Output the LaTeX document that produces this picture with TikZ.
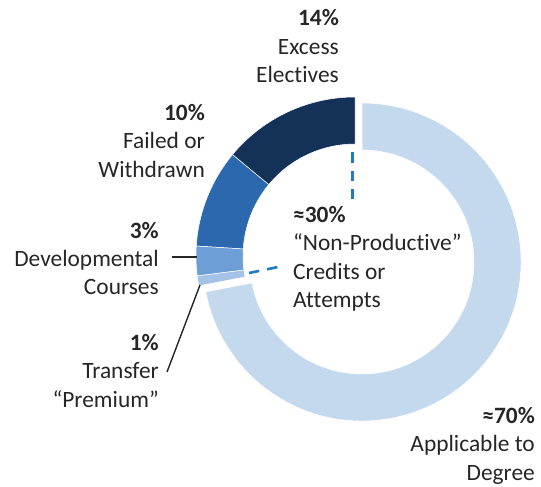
\documentclass[tikz,border=0pt]{standalone}
\usepackage{fontspec}
\setmainfont{Carlito}[Ligatures={NoCommon}]
\usetikzlibrary{calc}
\definecolor{cdark}{HTML}{143257}
\definecolor{cfail}{HTML}{2B68AD}
\definecolor{cdev}{HTML}{6E9ED6}
\definecolor{ctrans}{HTML}{A3C2E6}
\definecolor{clight}{HTML}{C5D9EE}
\definecolor{cdash}{HTML}{1F7BC4}
\definecolor{tcol}{HTML}{262626}
\tikzset{
  lbl/.style={inner sep=0pt, text=tcol, font=\fontsize{23.4}{28.5}\selectfont},
  dashln/.style={draw=cdash, line width=2.6pt, dash pattern=on 10.5pt off 8pt},
  leader/.style={draw=tcol, line width=1.4pt},
  segfill/.style={draw=white, line width=0.5pt}
}
\newcommand\donutseg[4]{%
  \fill[#4, segfill] ($(#1)+(#2:159)$) arc[start angle=#2, end angle=#3, radius=159]
    -- ($(#1)+(#3:112)$) arc[start angle=#3, end angle=#2, radius=112] -- cycle;}
\begin{document}
\begin{tikzpicture}[x=1pt,y=1pt]
\useasboundingbox (0,0) rectangle (541,-487);
\coordinate (c) at (355,-256);
\coordinate (cl) at (362,-262);
% segments
\donutseg{c}{90}{140.4}{cdark}
\donutseg{c}{140.4}{176.4}{cfail}
\donutseg{c}{176.4}{187.2}{cdev}
\donutseg{c}{187.2}{190.8}{ctrans}
\donutseg{cl}{190.8}{450}{clight}
% dashed lines
\coordinate (d1a) at (352.5,-152);
\coordinate (d1b) at (352.5,-199);
\coordinate (d2a) at (249,-273);
\coordinate (d2b) at (278,-267);
\draw[dashln] (d1a) -- (d1b);
\draw[dashln] (d2a) -- (d2b);
% leader lines
\coordinate (ldA) at (172,-257);
\coordinate (ldB) at (197,-257);
\coordinate (ltA) at (167,-372);
\coordinate (ltB) at (200,-285);
\draw[leader] (ldA) -- (ldB);
\draw[leader] (ltA) -- (ltB);
% labels
\node[lbl, anchor=base east] (t14a) at (339,-26) {\bfseries 14\%};
\node[lbl, anchor=base east] (t14b) at (339,-54.5) {Excess};
\node[lbl, anchor=base east] (t14c) at (339,-83) {Electives};
\node[lbl, anchor=base east] (t10a) at (205,-120) {\bfseries 10\%};
\node[lbl, anchor=base east] (t10b) at (205,-148.5) {Failed or};
\node[lbl, anchor=base east] (t10c) at (205,-177) {Withdrawn};
\node[lbl, anchor=base east] (t3a) at (159,-238) {\bfseries 3\%};
\node[lbl, anchor=base east] (t3b) at (159,-266) {Developmental};
\node[lbl, anchor=base east] (t3c) at (159,-294.5) {Courses};
\node[lbl, anchor=base east] (t1a) at (159,-350) {\bfseries 1\%};
\node[lbl, anchor=base east] (t1b) at (159,-378.5) {Transfer};
\node[lbl, anchor=base east] (t1c) at (159,-407) {“Premium”};
\node[lbl, anchor=base west] (t30a) at (293,-222) {\bfseries ≈30\%};
\node[lbl, anchor=base west] (t30b) at (293,-250.5) {“Non-Productive”};
\node[lbl, anchor=base west] (t30c) at (293,-279) {Credits or};
\node[lbl, anchor=base west] (t30d) at (293,-307.5) {Attempts};
\node[lbl, anchor=base east] (t70a) at (535,-423) {\bfseries ≈70\%};
\node[lbl, anchor=base east] (t70b) at (535,-451.5) {Applicable to};
\node[lbl, anchor=base east] (t70c) at (535,-480) {Degree};
\end{tikzpicture}
\end{document}
